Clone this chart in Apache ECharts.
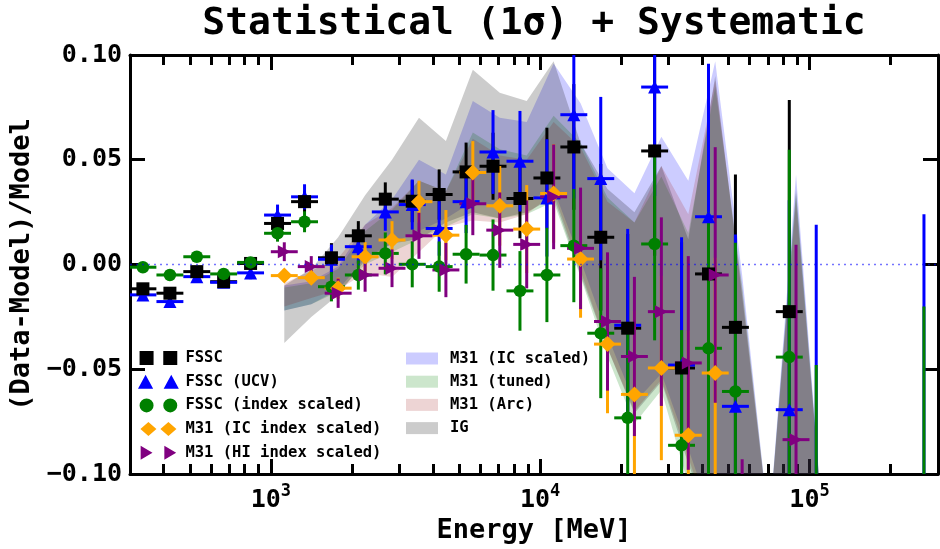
<!DOCTYPE html>
<html>
<head>
<meta charset="utf-8">
<title>Statistical (1σ) + Systematic</title>
<script src="https://cdn.jsdelivr.net/npm/echarts@6/dist/echarts.min.js"></script>
<style>
  html, body { margin: 0; padding: 0; background: #fff; }
  #chart { width: 940px; height: 549px; }
</style>
</head>
<body>
<div id="chart"></div>
<script>
// energy bin centres [MeV]
const fsscEnergy = [335, 422, 531, 668, 841, 1059, 1334, 1679, 2113, 2661,
  3350, 4217, 5309, 6683, 8414, 10593, 13335, 16788, 21135, 26607,
  33497, 42170, 53088, 66834, 84140, 105925, 133352, 167880, 211349, 266073];
const m31Energy = [1122, 1413, 1778, 2239, 2818, 3548, 4467, 5623, 7079, 8913,
  11220, 14125, 17783, 22387, 28184, 35481, 44668, 56234, 70795, 89125, 112202];
const halfBinDex = 0.05; // horizontal error bar half width, in decades

// (Data-Model)/Model and 1 sigma errors, on fsscEnergy
const fssc = [-0.0116, -0.0137, -0.0034, -0.0082, 0.0005, 0.0196, 0.030, 0.0032, 0.0137, 0.0312,
  0.0302, 0.0334, 0.0442, 0.0469, 0.0315, 0.0413, 0.0561, 0.013, -0.0304, 0.0542,
  -0.0494, -0.0045, -0.030, null, -0.0225, null, null, null, null, null];
const fsscErr = [0.002, 0.002, 0.002, 0.002, 0.002, 0.004, 0.005, 0.007, 0.007, 0.008,
  0.010, 0.012, 0.014, 0.016, 0.019, 0.024, 0.030, 0.035, 0.045, 0.050,
  0.060, 0.068, 0.073, null, 0.101, null, null, null, null, null];
const ucv = [-0.0145, -0.0177, -0.0058, -0.0085, -0.004, 0.0236, 0.0323, 0.0025, 0.0085, 0.0251,
  0.0286, 0.0172, 0.030, 0.0537, 0.0493, 0.0318, 0.0715, 0.041, -0.029, 0.0847,
  -0.048, 0.0228, -0.0677, null, -0.0693, -0.14, null, null, null, -0.2];
const ucvErr = [0.002, 0.002, 0.002, 0.002, 0.003, 0.005, 0.006, 0.007, 0.008, 0.009,
  0.012, 0.013, 0.015, 0.020, 0.024, 0.028, 0.040, 0.039, 0.046, 0.052,
  0.061, 0.073, 0.082, null, 0.100, 0.159, null, null, null, 0.224];
const indexScaled = [-0.0013, -0.005, 0.0037, -0.0045, 0.001, 0.0149, 0.0204, -0.0106, -0.005, 0.0053,
  0.0001, -0.001, 0.0049, 0.0045, -0.0126, -0.005, 0.009, -0.0328, -0.0732, 0.0098,
  -0.0863, -0.040, -0.0606, null, -0.0442, -0.2, null, null, null, -0.25];
const indexScaledErr = [0.002, 0.002, 0.002, 0.002, 0.002, 0.004, 0.005, 0.007, 0.007, 0.010,
  0.011, 0.012, 0.014, 0.017, 0.019, 0.0225, 0.027, 0.031, 0.040, 0.046,
  0.055, 0.065, 0.071, null, 0.099, 0.152, null, null, null, 0.23];

// on m31Energy
const icIndex = [-0.0053, -0.0063, -0.0113, 0.0037, 0.0117, 0.030, 0.014, 0.0439, 0.028, 0.0169,
  0.0339, 0.0026, -0.038, -0.062, -0.0494, -0.0815, -0.0518, null, null, null, null];
const icIndexErr = [0.003, 0.003, 0.005, 0.007, 0.009, 0.010, 0.012, 0.015, 0.019, 0.021,
  0.0235, 0.028, 0.033, 0.040, 0.044, 0.050, 0.055, null, null, null, null];
const hiIndex = [0.0061, -0.001, -0.0137, -0.005, -0.0018, 0.0137, -0.0026, 0.029, 0.0164, 0.0096,
  0.0323, 0.0077, -0.0272, -0.0439, -0.0225, -0.047, -0.005, -0.16, null, -0.0836, null];
const hiIndexErr = [0.0045, 0.005, 0.007, 0.008, 0.009, 0.011, 0.013, 0.015, 0.018, 0.021,
  0.025, 0.029, 0.033, 0.038, 0.045, 0.051, 0.061, 0.067, null, 0.093, null];

// systematic bands, lower / upper edge on m31Energy
const icScaledLo = [-0.022, -0.019, -0.012, 0.003, 0.010, 0.016, 0.022, 0.030, 0.028, 0.030,
  0.036, 0.002, -0.034, -0.066, -0.052, -0.088, -0.125, -0.14, -0.16, -0.13, -0.16];
const icScaledHi = [-0.010, -0.008, -0.001, 0.019, 0.031, 0.050, 0.043, 0.078, 0.070, 0.068,
  0.096, 0.077, 0.046, 0.034, 0.061, 0.040, 0.097, -0.005, -0.125, 0.043, -0.125];
const tunedLo = [-0.022, -0.019, -0.013, 0.000, 0.006, 0.012, 0.018, 0.024, 0.022, 0.024,
  0.030, -0.006, -0.044, -0.076, -0.060, -0.105, -0.13, -0.15, -0.16, -0.14, -0.16];
const tunedHi = [-0.011, -0.009, -0.002, 0.016, 0.026, 0.040, 0.035, 0.063, 0.055, 0.052,
  0.071, 0.058, 0.032, 0.020, 0.042, 0.015, 0.085, -0.010, -0.125, 0.034, -0.125];
const arcLo = [-0.020, -0.016, -0.012, -0.004, -0.006, 0.006, 0.018, 0.021, 0.020, 0.024,
  0.034, -0.003, -0.040, -0.070, -0.055, -0.092, -0.13, -0.15, -0.16, -0.14, -0.16];
const arcHi = [-0.009, -0.003, 0.003, 0.019, 0.027, 0.040, 0.035, 0.060, 0.052, 0.050,
  0.068, 0.056, 0.030, 0.020, 0.047, 0.024, 0.088, -0.012, -0.125, 0.030, -0.125];
const igLo = [-0.0375, -0.025, -0.0145, 0.002, 0.010, 0.012, 0.020, 0.025, 0.022, 0.025,
  0.032, -0.005, -0.040, -0.071, -0.056, -0.095, -0.13, -0.15, -0.16, -0.14, -0.16];
const igHi = [-0.010, -0.002, 0.013, 0.033, 0.050, 0.070, 0.059, 0.093, 0.082, 0.078,
  0.097, 0.058, 0.036, 0.025, 0.047, 0.012, 0.090, -0.015, -0.125, 0.036, -0.125];

// axis ticks
const majorTicks = [1e3, 1e4, 1e5];
const minorTicks = [400, 500, 600, 700, 800, 900, 2000, 3000, 4000, 5000, 6000, 7000, 8000, 9000,
  20000, 30000, 40000, 50000, 60000, 70000, 80000, 90000, 200000];

const FONT = 'DejaVu Sans Mono';
const chart = echarts.init(document.getElementById('chart'));

// [x, y, err] rows, skipping empty bins
const rows = (xs, ys, es) => xs.map((x, i) => (ys[i] == null ? null : [x, ys[i], es[i]])).filter(Boolean);
const bandRows = (lo, hi) => m31Energy.map((x, i) => [x, lo[i], hi[i]]);

// error bars: horizontal = bin width, vertical = +-err
const errorBarSeries = (name, color, data) => ({
  name: name + ' err',
  type: 'custom',
  clip: true,
  z: 3,
  silent: true,
  data: data,
  encode: { x: 0, y: 1 },
  renderItem: (params, api) => {
    const x = api.value(0), y = api.value(1), e = api.value(2);
    const f = Math.pow(10, halfBinDex);
    const l = api.coord([x / f, y]), r = api.coord([x * f, y]);
    const t = api.coord([x, y + e]), b = api.coord([x, y - e]);
    return {
      type: 'group',
      children: [
        { type: 'line', shape: { x1: l[0], y1: l[1], x2: r[0], y2: r[1] }, style: { stroke: color, lineWidth: 3 } },
        { type: 'line', shape: { x1: t[0], y1: t[1], x2: b[0], y2: b[1] }, style: { stroke: color, lineWidth: 3 } }
      ]
    };
  }
});

const markerSeries = (name, color, symbol, size, data) => ({
  name: name,
  type: 'scatter',
  z: 4,
  silent: true,
  symbol: symbol,
  symbolSize: size,
  itemStyle: { color: color, opacity: 1 },
  data: data.map(d => [d[0], d[1]])
});

// filled band between lower / upper edges
const bandSeries = (name, color, data) => ({
  name: name,
  type: 'custom',
  clip: true,
  z: 1,
  silent: true,
  itemStyle: { color: color },
  data: data,
  encode: { x: 0, y: [1, 2] },
  renderItem: (params, api) => {
    if (params.dataIndexInside !== 0) return null;
    const n = params.dataInsideLength;
    const pts = [];
    for (let i = 0; i < n; i++) pts.push(api.coord([api.value(0, i), api.value(2, i)]));
    for (let i = n - 1; i >= 0; i--) pts.push(api.coord([api.value(0, i), api.value(1, i)]));
    return { type: 'polygon', shape: { points: pts }, style: { fill: color } };
  }
});

const black = '#000000', blue = '#0000ff', green = '#008000', orange = '#ffa500', purple = '#800080';
const rightTri = 'path://M0,0L11,6.5L0,13Z';

const fsscRows = rows(fsscEnergy, fssc, fsscErr);
const ucvRows = rows(fsscEnergy, ucv, ucvErr);
const indexRows = rows(fsscEnergy, indexScaled, indexScaledErr);
const icRows = rows(m31Energy, icIndex, icIndexErr);
const hiRows = rows(m31Energy, hiIndex, hiIndexErr);

const xBase = {
  type: 'log', logBase: 10, min: 300, max: 300000,
  splitLine: { show: false },
  axisLine: { show: false, onZero: false },
  axisLabel: { show: false }
};
const tickStyle = { color: '#000', width: 3 };
const spine = { show: true, onZero: false, lineStyle: { color: '#000', width: 3 } };

const option = {
  animation: false,
  backgroundColor: '#fff',
  title: {
    text: 'Statistical (1σ) + Systematic',
    left: 534, top: 5, textAlign: 'center', padding: 0,
    textStyle: { fontFamily: FONT, fontWeight: 'bold', fontSize: 38, color: '#000' }
  },
  grid: { left: 130, right: 2, top: 55, bottom: 75, outerBoundsMode: 'none' },
  legend: [
    {
      orient: 'vertical', left: 138, top: 350, padding: 0,
      itemWidth: 44, itemHeight: 14, itemGap: 7.7,
      selectedMode: false,
      textStyle: { fontFamily: FONT, fontWeight: 'bold', fontSize: 15.5, color: '#000', lineHeight: 14 },
      data: [
        { name: 'FSSC', icon: 'path://M0,0h13v13h-13zM22,0h13v13h-13z' },
        { name: 'FSSC (UCV)', icon: 'path://M6.5,0L13,12L0,12ZM28.5,0L35,12L22,12Z' },
        { name: 'FSSC (index scaled)', icon: 'path://M0,6.5a6.5,6.5 0 1,0 13,0a6.5,6.5 0 1,0 -13,0ZM22,6.5a6.5,6.5 0 1,0 13,0a6.5,6.5 0 1,0 -13,0Z' },
        { name: 'M31 (IC index scaled)', icon: 'path://M8,0L16,7L8,14L0,7ZM28,0L36,7L28,14L20,7Z' },
        { name: 'M31 (HI index scaled)', icon: 'path://M2,0L13,6.5L2,13ZM24,0L35,6.5L24,13Z' }
      ]
    },
    {
      orient: 'vertical', left: 406, top: 350.5, padding: 0,
      itemWidth: 46, itemHeight: 12, itemGap: 7.2,
      selectedMode: false,
      textStyle: { fontFamily: FONT, fontWeight: 'bold', fontSize: 15.5, color: '#000', lineHeight: 14 },
      data: [
        { name: 'M31 (IC scaled)', icon: 'path://M0,0h32v12h-32z', itemStyle: { color: 'rgba(0,0,255,0.2)' } },
        { name: 'M31 (tuned)', icon: 'path://M0,0h32v12h-32z', itemStyle: { color: 'rgba(0,128,0,0.2)' } },
        { name: 'M31 (Arc)', icon: 'path://M0,0h32v12h-32z', itemStyle: { color: 'rgba(165,42,42,0.2)' } },
        { name: 'IG', icon: 'path://M0,0h32v12h-32z', itemStyle: { color: 'rgba(0,0,0,0.2)' } }
      ]
    }
  ],
  xAxis: [
    Object.assign({}, xBase, {
      position: 'bottom',
      axisLine: spine,
      axisTick: { show: true, inside: true, length: 15, customValues: majorTicks, lineStyle: tickStyle },
      axisLabel: {
        show: true, customValues: majorTicks, margin: 9,
        formatter: v => '{b|10}{s|' + Math.round(Math.log10(v)) + '}',
        rich: {
          b: { fontFamily: FONT, fontWeight: 'bold', fontSize: 25, color: '#000', lineHeight: 30, verticalAlign: 'bottom' },
          s: { fontFamily: FONT, fontWeight: 'bold', fontSize: 17, color: '#000', lineHeight: 17, verticalAlign: 'top' }
        }
      },
      name: 'Energy [MeV]', nameLocation: 'middle', nameGap: 43,
      nameTextStyle: { fontFamily: FONT, fontWeight: 'bold', fontSize: 27, color: '#000' }
    }),
    Object.assign({}, xBase, {
      position: 'bottom',
      axisTick: { show: true, inside: true, length: 10, customValues: minorTicks, lineStyle: tickStyle }
    }),
    Object.assign({}, xBase, {
      position: 'top',
      axisLine: spine,
      axisTick: { show: true, inside: true, length: 15, customValues: majorTicks, lineStyle: tickStyle }
    }),
    Object.assign({}, xBase, {
      position: 'top',
      axisTick: { show: true, inside: true, length: 10, customValues: minorTicks, lineStyle: tickStyle }
    })
  ],
  yAxis: [
    {
      type: 'value', min: -0.1, max: 0.1, interval: 0.05, position: 'left',
      axisLine: spine,
      axisTick: { show: true, inside: true, length: 15, lineStyle: tickStyle },
      splitLine: { show: false },
      axisLabel: {
        margin: 8, fontFamily: FONT, fontWeight: 'bold', fontSize: 25, color: '#000',
        formatter: v => (v < -1e-9 ? '\u2212' : '') + Math.abs(v).toFixed(2)
      },
      name: '(Data-Model)/Model', nameLocation: 'middle', nameGap: 88, nameRotate: 90,
      nameTextStyle: { fontFamily: FONT, fontWeight: 'bold', fontSize: 27, color: '#000' }
    },
    {
      type: 'value', min: -0.1, max: 0.1, interval: 0.05, position: 'right',
      axisLine: spine,
      axisTick: { show: true, inside: true, length: 15, lineStyle: tickStyle },
      splitLine: { show: false },
      axisLabel: { show: false }
    }
  ],
  series: [
    bandSeries('M31 (IC scaled)', 'rgba(0,0,255,0.2)', bandRows(icScaledLo, icScaledHi)),
    bandSeries('M31 (tuned)', 'rgba(0,128,0,0.2)', bandRows(tunedLo, tunedHi)),
    bandSeries('M31 (Arc)', 'rgba(165,42,42,0.2)', bandRows(arcLo, arcHi)),
    bandSeries('IG', 'rgba(0,0,0,0.2)', bandRows(igLo, igHi)),

    errorBarSeries('FSSC', black, fsscRows),
    errorBarSeries('FSSC (UCV)', blue, ucvRows),
    errorBarSeries('FSSC (index scaled)', green, indexRows),
    errorBarSeries('M31 (IC index scaled)', orange, icRows),
    errorBarSeries('M31 (HI index scaled)', purple, hiRows),

    Object.assign(markerSeries('FSSC (UCV)', blue, 'triangle', 13, ucvRows), {
      markLine: {
        silent: true, symbol: 'none', label: { show: false },
        lineStyle: { color: 'rgba(0,0,255,0.55)', type: [2, 4], width: 1.3 },
        data: [{ yAxis: 0 }]
      }
    }),
    markerSeries('FSSC', black, 'rect', 13, fsscRows),
    markerSeries('FSSC (index scaled)', green, 'circle', 12.5, indexRows),
    markerSeries('M31 (IC index scaled)', orange, 'diamond', 16, icRows),
    markerSeries('M31 (HI index scaled)', purple, rightTri, 13, hiRows)
  ]
};

chart.setOption(option);
</script>
</body>
</html>
